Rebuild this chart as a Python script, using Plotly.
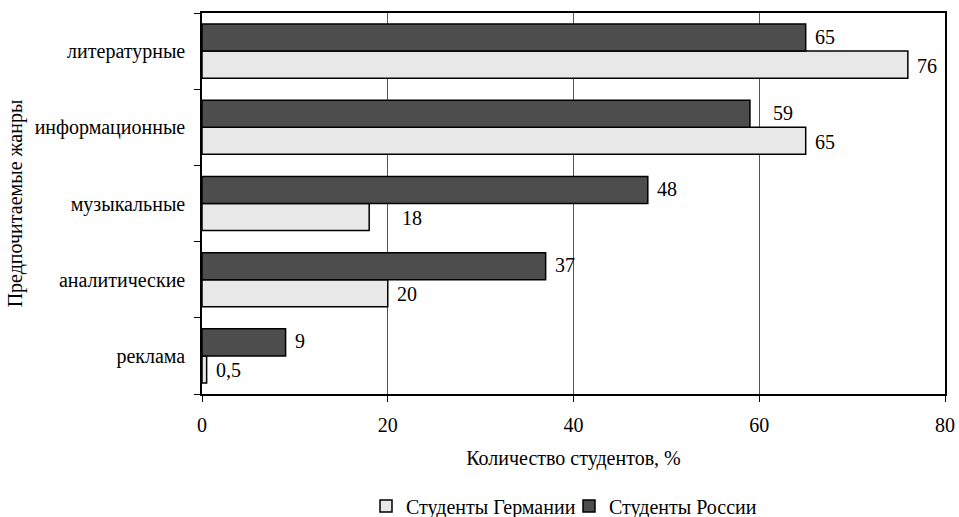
import plotly.graph_objects as go

genres = ["реклама", "аналитические", "музыкальные", "информационные", "литературные"]
germany = [0.5, 20, 18, 65, 76]
russia = [9, 37, 48, 59, 65]
germany_labels = ["0,5", "20", "18", "65", "76"]
russia_labels = ["9", "37", "48", "59", "65"]
# extra horizontal offset (px) for some value labels
germany_shift = [0, 0, 24, 0, 0]
russia_shift = [0, 0, 0, 14, 0]

font = "Liberation Serif"
fs = 20

fig = go.Figure()
fig.add_trace(go.Bar(
    y=genres, x=germany, orientation="h", name="Студенты Германии",
    marker=dict(color="#e8e8e8", line=dict(color="#000000", width=1.5)),
))
fig.add_trace(go.Bar(
    y=genres, x=russia, orientation="h", name="Студенты России",
    marker=dict(color="#4d4d4d", line=dict(color="#000000", width=1.5)),
))

# value labels placed just right of each bar end
off = 0.19
for i, g in enumerate(genres):
    fig.add_annotation(x=germany[i], y=i - off, text=germany_labels[i], xref="x", yref="y",
                       showarrow=False, xanchor="left", xshift=7 + germany_shift[i],
                       font=dict(family=font, size=fs, color="#000"))
    fig.add_annotation(x=russia[i], y=i + off, text=russia_labels[i], xref="x", yref="y",
                       showarrow=False, xanchor="left", xshift=7 + russia_shift[i],
                       font=dict(family=font, size=fs, color="#000"))

fig.update_layout(
    width=959, height=517,
    margin=dict(l=202, r=14, t=13, b=123, autoexpand=False),
    paper_bgcolor="white", plot_bgcolor="white",
    barmode="group", bargap=0.29, bargroupgap=0,
    font=dict(family=font, size=fs, color="#000"),
    showlegend=True,
    legend=dict(orientation="h", xref="container", x=366 / 959, xanchor="left",
                yref="container", y=1 - 506 / 517, yanchor="middle", entrywidth=158,
                font=dict(family=font, size=fs), traceorder="normal",
                itemwidth=30, tracegroupgap=0),
    xaxis=dict(range=[0, 80], tickvals=[0, 20, 40, 60, 80], showgrid=True,
               gridcolor="#555555", gridwidth=1, showline=True, linecolor="#000",
               linewidth=1.5, mirror=True, ticks="outside", ticklen=6, tickcolor="#000",
               zeroline=False, tickfont=dict(size=fs), automargin=False,
               ticklabelstandoff=6,
               title=dict(text="Количество студентов, %", font=dict(size=fs), standoff=16)),
    yaxis=dict(categoryorder="array", categoryarray=genres, showline=True,
               linecolor="#000", linewidth=1.5, mirror=True, ticks="outside",
               tickson="boundaries", ticklen=6, tickcolor="#000", showgrid=False,
               tickfont=dict(size=fs), automargin=False, ticklabelstandoff=11,
               title=dict(text="Предпочитаемые жанры", font=dict(size=fs), standoff=7)),
)

fig.write_html("out.html")
